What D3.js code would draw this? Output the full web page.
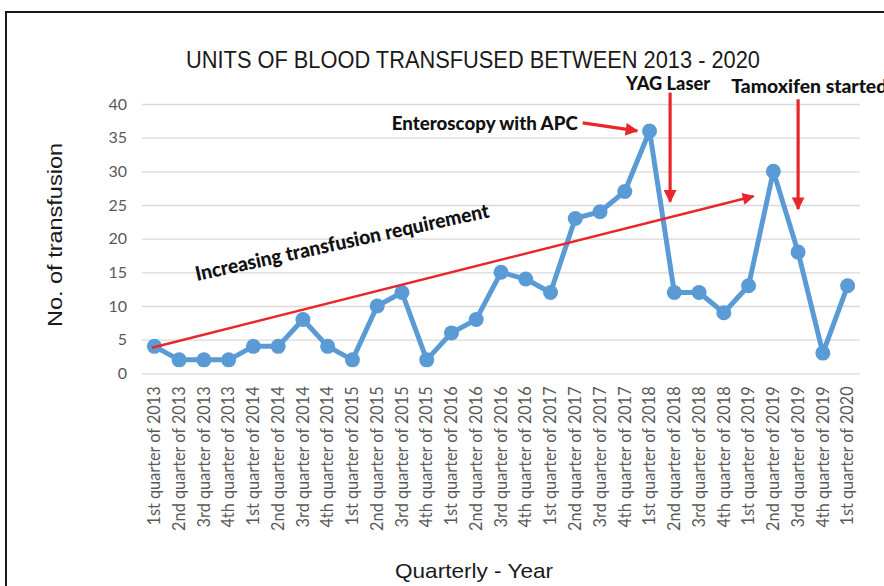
<!DOCTYPE html>
<html>
<head>
<meta charset="utf-8">
<script src="https://cdn.jsdelivr.net/npm/d3@7"></script>
<style>
  body { margin: 0; background: #fff; }
  svg { display: block; }
</style>
</head>
<body>
<svg id="chart" width="884" height="586"></svg>
<script>
// quarters shown on the x axis
var quarters = [
  "1st quarter of 2013", "2nd quarter of 2013", "3rd quarter of 2013", "4th quarter of 2013",
  "1st quarter of 2014", "2nd quarter of 2014", "3rd quarter of 2014", "4th quarter of 2014",
  "1st quarter of 2015", "2nd quarter of 2015", "3rd quarter of 2015", "4th quarter of 2015",
  "1st quarter of 2016", "2nd quarter of 2016", "3rd quarter of 2016", "4th quarter of 2016",
  "1st quarter of 2017", "2nd quarter of 2017", "3rd quarter of 2017", "4th quarter of 2017",
  "1st quarter of 2018", "2nd quarter of 2018", "3rd quarter of 2018", "4th quarter of 2018",
  "1st quarter of 2019", "2nd quarter of 2019", "3rd quarter of 2019", "4th quarter of 2019",
  "1st quarter of 2020"
];

// units transfused per quarter
var units = [4, 2, 2, 2, 4, 4, 8, 4, 2, 10, 12, 2, 6, 8, 15, 14, 12, 23, 24, 27, 36, 12, 12, 9, 13, 30, 18, 3, 13];

var yTicks = [0, 5, 10, 15, 20, 25, 30, 35, 40];

// annotation arrows, in data units (x = quarter index, y = units)
var arrows = [
  {name: "trend", x1: -0.1, y1: 3.8, x2: 24.2, y2: 26.3},
  {name: "apc",   x1: 17.3, y1: 37.2, x2: 19.5, y2: 36.0},
  {name: "yag",   x1: 20.83, y1: 41.7, x2: 20.83, y2: 25.5},
  {name: "tamox", x1: 26.0, y1: 40.7, x2: 26.0, y2: 24.4}
];

var notes = [
  {text: "Enteroscopy with APC", x: 17.1, y: 36.2, anchor: "end", len: 186},
  {text: "YAG Laser", x: 20.75, y: 42.1, anchor: "middle", len: 84},
  {text: "Tamoxifen started", x: 23.3, y: 41.6, anchor: "start", len: 156}
];

function drawChart() {
  var svg = d3.select("#chart");
  var W = 884, H = 586;
  var mLeft = 142, mRight = 860, mTop = 104, mBottom = 373.3;

  // frame
  svg.append("rect")
    .attr("x", 6).attr("y", 12)
    .attr("width", W + 20).attr("height", H + 20)
    .attr("fill", "#fff")
    .attr("stroke", "#1a1a1a")
    .attr("stroke-width", 2);

  var x = d3.scaleBand().domain(quarters).range([mLeft, mRight]).padding(0);
  var bw = x.bandwidth();
  var xi = d3.scaleLinear().domain([0, quarters.length - 1])
    .range([x(quarters[0]) + bw / 2, x(quarters[quarters.length - 1]) + bw / 2]);
  var y = d3.scaleLinear().domain([0, 40]).range([mBottom, mTop]);

  // gridlines + y labels
  var yAxis = d3.axisLeft(y).tickValues(yTicks).tickSize(-(mRight - mLeft)).tickPadding(15);
  var gy = svg.append("g").attr("transform", "translate(" + mLeft + ",0)").call(yAxis);
  gy.select(".domain").remove();
  gy.selectAll(".tick line").attr("stroke", "#d9d9d9").attr("stroke-width", 1.3);
  gy.selectAll(".tick text")
    .attr("fill", "#595959")
    .style("font-family", "Lato, 'Open Sans', sans-serif")
    .style("font-size", "16px");

  // x labels
  var xAxis = d3.axisBottom(x).tickSize(0).tickPadding(0);
  var gx = svg.append("g").attr("transform", "translate(0," + mBottom + ")").call(xAxis);
  gx.select(".domain").remove();
  gx.selectAll(".tick text")
    .attr("transform", "rotate(-90)")
    .attr("x", -13)
    .attr("y", 0)
    .attr("dy", "0.35em")
    .attr("text-anchor", "end")
    .attr("fill", "#595959")
    .style("font-family", "Lato, 'Open Sans', sans-serif")
    .style("font-size", "16.3px");

  // series line
  var line = d3.line()
    .x(function (d, i) { return x(quarters[i]) + bw / 2; })
    .y(function (d) { return y(d); });

  svg.append("path")
    .attr("d", line(units))
    .attr("fill", "none")
    .attr("stroke", "#5b9bd5")
    .attr("stroke-width", 5)
    .attr("stroke-linejoin", "round");

  svg.selectAll("circle.pt")
    .data(units)
    .enter().append("circle")
    .attr("class", "pt")
    .attr("cx", function (d, i) { return x(quarters[i]) + bw / 2; })
    .attr("cy", function (d) { return y(d); })
    .attr("r", 7.5)
    .attr("fill", "#5b9bd5");

  // red arrows
  var red = "#e8262b";
  var defs = svg.append("defs");
  defs.append("marker")
    .attr("id", "head")
    .attr("viewBox", "0 0 10 10")
    .attr("refX", 9).attr("refY", 5)
    .attr("markerWidth", 4.2).attr("markerHeight", 4)
    .attr("markerUnits", "strokeWidth")
    .attr("orient", "auto")
    .append("path").attr("d", "M0,0 L10,5 L0,10 z").attr("fill", red);
  defs.append("marker")
    .attr("id", "headThin")
    .attr("viewBox", "0 0 10 10")
    .attr("refX", 9).attr("refY", 5)
    .attr("markerWidth", 5.5).attr("markerHeight", 5)
    .attr("markerUnits", "strokeWidth")
    .attr("orient", "auto")
    .append("path").attr("d", "M0,0 L10,5 L0,10 z").attr("fill", red);

  svg.selectAll("line.arrow")
    .data(arrows)
    .enter().append("line")
    .attr("class", "arrow")
    .attr("x1", function (d) { return xi(d.x1); })
    .attr("y1", function (d) { return y(d.y1); })
    .attr("x2", function (d) { return xi(d.x2); })
    .attr("y2", function (d) { return y(d.y2); })
    .attr("stroke", red)
    .attr("stroke-width", function (d) { return d.name == "trend" ? 2.4 : 3.2; })
    .attr("marker-end", function (d) { return d.name == "trend" ? "url(#headThin)" : "url(#head)"; });

  // annotation labels
  svg.selectAll("text.note")
    .data(notes)
    .enter().append("text")
    .attr("class", "note")
    .attr("x", function (d) { return xi(d.x); })
    .attr("y", function (d) { return y(d.y); })
    .attr("text-anchor", function (d) { return d.anchor; })
    .attr("textLength", function (d) { return d.len; })
    .attr("lengthAdjust", "spacingAndGlyphs")
    .style("font-family", "Lato, 'Open Sans', sans-serif")
    .style("font-weight", "900")
    .style("font-size", "18px")
    .attr("fill", "#111")
    .text(function (d) { return d.text; });

  svg.append("text")
    .attr("transform", "translate(197,281) rotate(-12.3)")
    .attr("textLength", 300)
    .attr("lengthAdjust", "spacingAndGlyphs")
    .style("font-family", "Lato, 'Open Sans', sans-serif")
    .style("font-weight", "900")
    .style("font-size", "20px")
    .attr("fill", "#111")
    .text("Increasing transfusion requirement");

  // titles
  svg.append("text")
    .attr("x", 473).attr("y", 68)
    .attr("text-anchor", "middle")
    .attr("textLength", 574)
    .attr("lengthAdjust", "spacingAndGlyphs")
    .style("font-family", "'Liberation Sans Narrow', 'Liberation Sans', Arial, sans-serif")
    .style("font-size", "23px")
    .attr("fill", "#1a1a1a")
    .text("UNITS OF BLOOD TRANSFUSED BETWEEN 2013 - 2020");

  svg.append("text")
    .attr("transform", "translate(62,235) rotate(-90)")
    .attr("text-anchor", "middle")
    .attr("textLength", 184)
    .attr("lengthAdjust", "spacingAndGlyphs")
    .style("font-family", "'Liberation Sans', Arial, sans-serif")
    .style("font-size", "21px")
    .attr("fill", "#1a1a1a")
    .text("No. of transfusion");

  svg.append("text")
    .attr("x", 474).attr("y", 578)
    .attr("text-anchor", "middle")
    .attr("textLength", 158)
    .attr("lengthAdjust", "spacingAndGlyphs")
    .style("font-family", "'Liberation Sans', Arial, sans-serif")
    .style("font-size", "21px")
    .attr("fill", "#1a1a1a")
    .text("Quarterly - Year");
}

drawChart();
</script>
</body>
</html>
